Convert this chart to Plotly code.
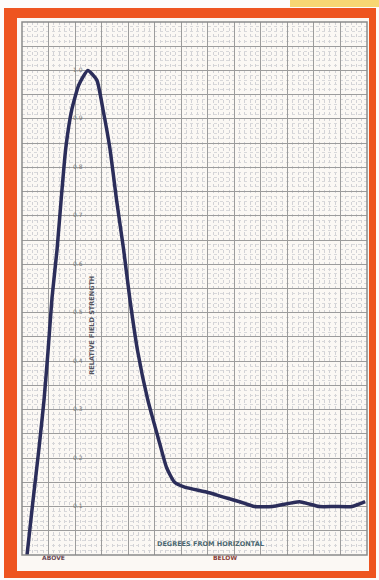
import plotly.graph_objects as go

# ---- data ----
angle_deg = [0.19, 0.41, 0.64, 0.83, 0.98, 1.13, 1.32, 1.47, 1.65, 1.88, 2.14, 2.48,
             2.82, 3.05, 3.31, 3.57, 3.83, 4.06, 4.36, 4.74, 5.19, 5.45, 5.75, 6.13,
             6.95, 7.56, 8.20, 8.76, 9.44, 10.45, 11.20, 11.77, 12.44, 12.93]
field_strength = [0.00, 0.11, 0.22, 0.32, 0.42, 0.53, 0.63, 0.73, 0.84, 0.92, 0.97, 1.00,
                  0.98, 0.92, 0.84, 0.73, 0.63, 0.53, 0.42, 0.32, 0.23, 0.18, 0.15, 0.14,
                  0.13, 0.12, 0.11, 0.10, 0.10, 0.11, 0.10, 0.10, 0.10, 0.11]
y_tick_values = [0.1, 0.2, 0.3, 0.4, 0.5, 0.6, 0.7, 0.8, 0.9, 1.0]
y_tick_labels = ["0.1", "0.2", "0.3", "0.4", "0.5", "0.6", "0.7", "0.8", "0.9", "1.0"]
y_title = "RELATIVE FIELD STRENGTH"
x_title = "DEGREES FROM HORIZONTAL"
x_end_labels = ["ABOVE", "BELOW"]

W, H = 379, 580
L, R, T, B = 22, 12, 22, 25
PW, PH = W - L - R, H - T - B


def px(x):
    return (x - L) / PW


def py(y):
    return (H - B - y) / PH


fig = go.Figure()

fig.add_trace(go.Scatter(
    x=angle_deg, y=field_strength, mode="lines",
    line=dict(color="#2b2d5a", width=3.5, shape="spline", smoothing=0.5),
    hoverinfo="skip", showlegend=False))

fig.add_trace(go.Scatter(
    x=[2.1] * len(y_tick_values), y=y_tick_values, mode="text",
    text=y_tick_labels, textfont=dict(family="DejaVu Sans", size=6, color="#7a7a7a"),
    hoverinfo="skip", showlegend=False))

fig.add_annotation(x=2.63, y=0.475, xref="x", yref="y", text="<b>" + y_title + "</b>",
                   textangle=-90, showarrow=False,
                   font=dict(family="DejaVu Sans", size=6.5, color="#555560"))
fig.add_annotation(x=7.1, y=0.022, xref="x", yref="y", text="<b>" + x_title + "</b>",
                   showarrow=False,
                   font=dict(family="DejaVu Sans", size=6.5, color="#4a6670"))
fig.add_annotation(x=px(40), y=py(563), xref="paper", yref="paper",
                   text="<b>" + x_end_labels[0] + "</b>", showarrow=False,
                   font=dict(family="DejaVu Sans", size=6, color="#6a4a55"))
fig.add_annotation(x=px(225), y=py(563), xref="paper", yref="paper",
                   text="<b>" + x_end_labels[1] + "</b>", showarrow=False,
                   font=dict(family="DejaVu Sans", size=6, color="#8a4038"))

shapes = [
    dict(type="rect", xref="paper", yref="paper", x0=px(4), x1=px(376), y0=py(578), y1=py(8),
         fillcolor="#ee5520", line=dict(width=0), layer="below"),
    dict(type="rect", xref="paper", yref="paper", x0=px(17), x1=px(369), y0=py(571), y1=py(18),
         fillcolor="#fbf8f4", line=dict(width=0), layer="below"),
    dict(type="rect", xref="paper", yref="paper", x0=px(290), x1=px(379), y0=py(7), y1=py(0),
         fillcolor="#f7d673", line=dict(width=0), layer="below"),
    dict(type="rect", xref="paper", yref="paper", x0=0, x1=1, y0=0, y1=1,
         fillcolor="rgba(0,0,0,0)", line=dict(color="#8a8a8a", width=1.5)),
]
fig.update_layout(shapes=shapes)

fig.update_layout(
    width=W, height=H,
    margin=dict(l=L, r=R, t=T, b=B),
    paper_bgcolor="#fdfcfa",
    plot_bgcolor="#f4f4f2",
    xaxis=dict(range=[0, 13], dtick=1, tick0=0, showticklabels=False, ticks="",
               showgrid=True, gridcolor="#9c9c9c", gridwidth=1, zeroline=False,
               minor=dict(dtick=0.2, showgrid=True, gridcolor="#d2d2d6", griddash="dot",
                          gridwidth=1)),
    yaxis=dict(range=[0, 1.1], dtick=0.05, tick0=0, showticklabels=False, ticks="",
               showgrid=True, gridcolor="#9c9c9c", gridwidth=1, zeroline=False,
               minor=dict(dtick=0.01, showgrid=True, gridcolor="#d8d8da", griddash="dot",
                          gridwidth=1)),
)

fig.write_html("out.html",
               config={"displayModeBar": False},
               post_script="document.body.style.margin='0';document.body.style.overflow='hidden';")
